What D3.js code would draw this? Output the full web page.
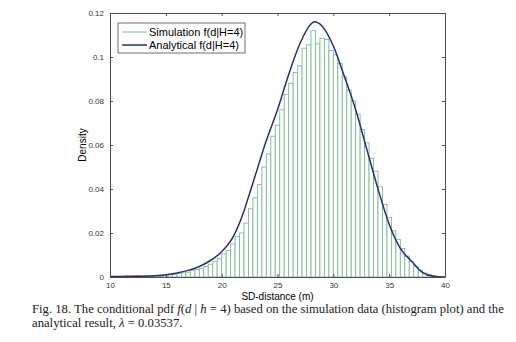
<!DOCTYPE html>
<html>
<head>
<meta charset="utf-8">
<script src="https://cdn.jsdelivr.net/npm/d3@7"></script>
<style>
  body { margin: 0; background: #fff; }
  svg { display: block; }
</style>
</head>
<body>
<svg width="516" height="342"></svg>
<script>
var width = 516,
    height = 342;

// histogram bins (width 0.4), centres from 10.2 to 39.8
var binStart = 10, binWidth = 0.4;
var simDensity = [
    0, 0, 0.0003, 0.0005, 0.0002, 0.0004, 0.0005, 0.0003, 0.0006, 0.0004,
    0.0005, 0.0003, 0.0007, 0.0009, 0.0012, 0.0015, 0.0018, 0.0022, 0.0030, 0.0034,
    0.0040, 0.0048, 0.0058, 0.0070, 0.0085, 0.0105, 0.0120, 0.0150, 0.0185, 0.0200,
    0.0245, 0.0310, 0.0360, 0.0420, 0.0500, 0.0560, 0.0640, 0.0690, 0.0760, 0.0830,
    0.0880, 0.0930, 0.0960, 0.1040, 0.1055, 0.1120, 0.1060, 0.1085, 0.1080, 0.1030,
    0.1010, 0.0970, 0.0910, 0.0850, 0.0800, 0.0740, 0.0670, 0.0610, 0.0540, 0.0480,
    0.0410, 0.0330, 0.0270, 0.0210, 0.0170, 0.0130, 0.0095, 0.0070, 0.0048, 0.0030,
    0.0018, 0.0010, 0.0005, 0.0002, 0
];

// analytical pdf sampled along d
var curveD = [10, 12, 14, 15, 16, 17, 18, 19, 20, 21, 22, 22.5, 23, 24, 25, 26, 27, 28, 28.3,
              29, 30, 31, 32, 33, 34, 35, 36, 37, 38, 39, 40];
var curveF = [0.0002, 0.0003, 0.0006, 0.001, 0.0018, 0.003, 0.0048, 0.0075, 0.0115, 0.018, 0.030,
              0.038, 0.046, 0.062, 0.076, 0.092, 0.106, 0.115, 0.116,
              0.114, 0.105, 0.091, 0.076, 0.058, 0.040, 0.024, 0.013, 0.0072, 0.002, 0.0003, 0];

var xTicks = [10, 15, 20, 25, 30, 35, 40];
var yTicks = [0, 0.02, 0.04, 0.06, 0.08, 0.1, 0.12];
var legendLabels = ["Simulation f(d|H=4)", "Analytical f(d|H=4)"];

var barColor = "#7dba97",
    lineColor = "#2b2d72",
    axisColor = "#4d4d4d";

var plot = { left: 110, right: 445, top: 13, bottom: 277 };

var svg = d3.select("svg");

var x = d3.scaleLinear().domain([10, 40]).range([plot.left, plot.right]);
var y = d3.scaleLinear().domain([0, 0.12]).range([plot.bottom, plot.top]);

var bins = simDensity.map(function (v, i) {
    return { x0: binStart + i * binWidth, x1: binStart + (i + 1) * binWidth, v: v };
});

svg.append("g")
    .selectAll("rect")
    .data(bins)
    .enter()
    .append("rect")
    .attr("x", function (d) { return x(d.x0); })
    .attr("y", function (d) { return y(d.v); })
    .attr("width", function (d) { return x(d.x1) - x(d.x0); })
    .attr("height", function (d) { return y(0) - y(d.v); })
    .attr("fill", "#fff")
    .attr("stroke", barColor)
    .attr("stroke-width", 0.9);

var line = d3.line()
    .x(function (d) { return x(d[0]); })
    .y(function (d) { return y(d[1]); })
    .curve(d3.curveMonotoneX);

svg.append("path")
    .datum(d3.zip(curveD, curveF))
    .attr("d", line)
    .attr("fill", "none")
    .attr("stroke", lineColor)
    .attr("stroke-width", 1.5);

// axes, MATLAB style: ticks pointing inward on all four sides
function styleAxis(g) {
    g.select(".domain").attr("stroke", axisColor);
    g.selectAll(".tick line").attr("stroke", axisColor);
    g.selectAll(".tick text")
        .attr("fill", "#333")
        .style("font-family", "Arial, 'Liberation Sans', sans-serif")
        .style("font-size", "8px");
}

var fmt = function (d) { return d3.format("~g")(d); };

svg.append("g")
    .attr("transform", "translate(0," + plot.bottom + ")")
    .call(d3.axisBottom(x).tickValues(xTicks).tickSizeInner(-3).tickSizeOuter(0).tickPadding(5))
    .call(styleAxis);

svg.append("g")
    .attr("transform", "translate(0," + plot.top + ")")
    .call(d3.axisTop(x).tickValues(xTicks).tickSizeInner(-3).tickSizeOuter(0).tickFormat(""))
    .call(styleAxis);

svg.append("g")
    .attr("transform", "translate(" + plot.left + ",0)")
    .call(d3.axisLeft(y).tickValues(yTicks).tickSizeInner(-3).tickSizeOuter(0).tickPadding(6).tickFormat(fmt))
    .call(styleAxis);

svg.append("g")
    .attr("transform", "translate(" + plot.right + ",0)")
    .call(d3.axisRight(y).tickValues(yTicks).tickSizeInner(-3).tickSizeOuter(0).tickFormat(""))
    .call(styleAxis);

// axis titles
svg.append("text")
    .attr("x", (plot.left + plot.right) / 2)
    .attr("y", 300)
    .attr("text-anchor", "middle")
    .style("font-family", "Arial, 'Liberation Sans', sans-serif")
    .style("font-size", "10px")
    .text("SD-distance (m)");

svg.append("text")
    .attr("transform", "translate(86," + (plot.top + plot.bottom) / 2 + ") rotate(-90)")
    .attr("text-anchor", "middle")
    .style("font-family", "Arial, 'Liberation Sans', sans-serif")
    .style("font-size", "10px")
    .text("Density");

// legend
var legend = svg.append("g").attr("transform", "translate(118,23)");
legend.append("rect")
    .attr("width", 127)
    .attr("height", 30)
    .attr("fill", "#fff")
    .attr("stroke", axisColor)
    .attr("stroke-width", 0.8);

var rows = legend.selectAll("g.row")
    .data(legendLabels)
    .enter()
    .append("g")
    .attr("class", "row")
    .attr("transform", function (d, i) { return "translate(0," + (9 + i * 13) + ")"; });

rows.append("line")
    .attr("x1", 4).attr("x2", 29)
    .attr("stroke", function (d, i) { return i === 0 ? barColor : lineColor; })
    .attr("stroke-width", function (d, i) { return i === 0 ? 1 : 1.5; });

rows.append("text")
    .attr("x", 31)
    .attr("dy", "0.35em")
    .style("font-family", "Arial, 'Liberation Sans', sans-serif")
    .style("font-size", "11px")
    .text(function (d) { return d; });

// caption
var caption = svg.append("g")
    .style("font-family", "'Liberation Serif', 'Times New Roman', serif")
    .style("font-size", "12.7px")
    .attr("fill", "#222");

var line1 = caption.append("text").attr("x", 32).attr("y", 313);
line1.append("tspan").text("Fig. 18. The conditional pdf ");
line1.append("tspan").style("font-style", "italic").text("f");
line1.append("tspan").text("(");
line1.append("tspan").style("font-style", "italic").text("d");
line1.append("tspan").text(" | ");
line1.append("tspan").style("font-style", "italic").text("h");
line1.append("tspan").text(" = 4) based on the simulation data (histogram plot) and the");

var line2 = caption.append("text").attr("x", 32).attr("y", 327);
line2.append("tspan").text("analytical result, ");
line2.append("tspan").style("font-style", "italic").text("λ");
line2.append("tspan").text(" = 0.03537.");
</script>
</body>
</html>
